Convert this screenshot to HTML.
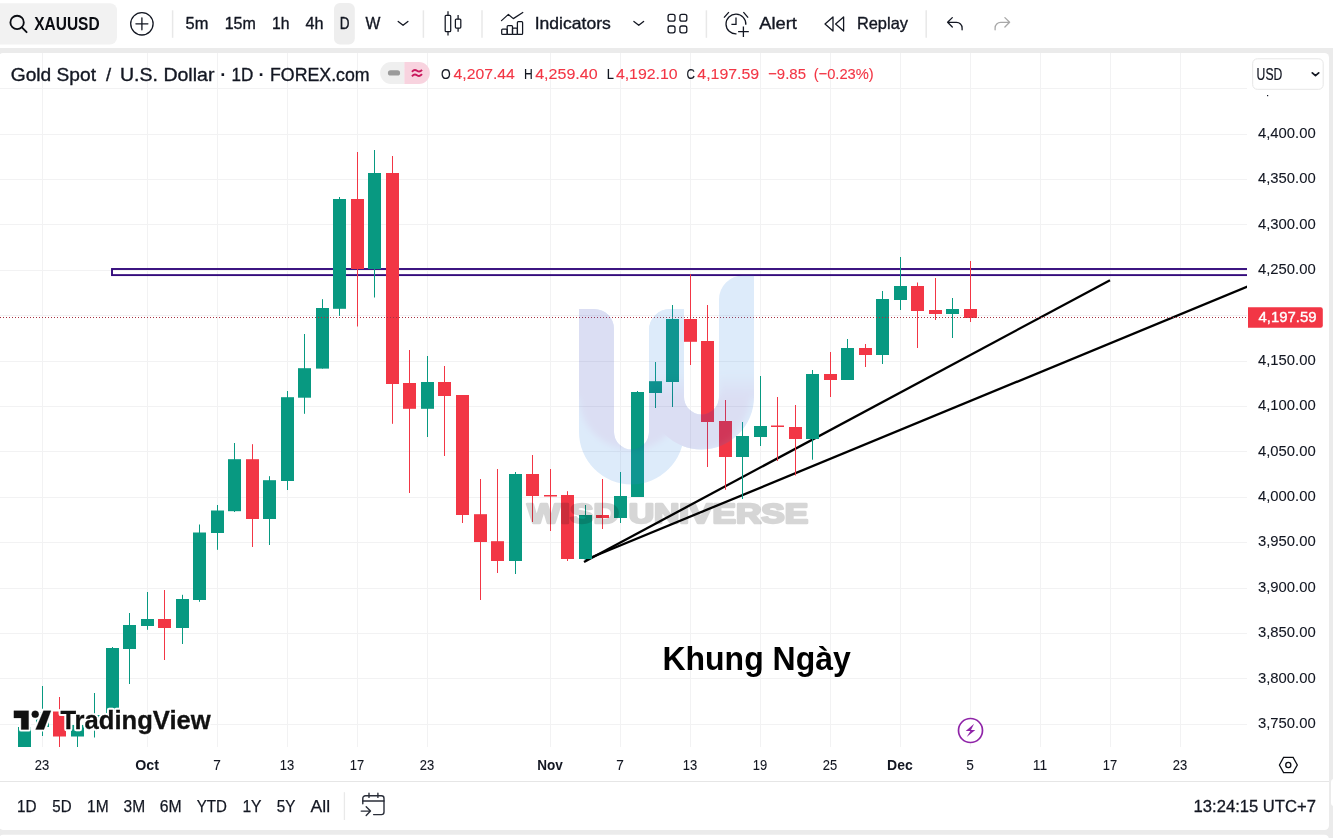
<!DOCTYPE html>
<html lang="vi"><head><meta charset="utf-8"><title>XAUUSD chart</title>
<style>html,body{margin:0;padding:0;background:#ebebeb}body{width:1333px;height:838px;overflow:hidden;position:relative}svg{display:block;position:absolute;left:0;top:0}text{font-family:"Liberation Sans",sans-serif}.b{font-weight:bold}</style></head><body>
<svg width="1333" height="838" viewBox="0 0 1333 838" fill="#131722">
<rect x="0" y="0" width="1333" height="838" fill="#ebebeb"/>
<rect x="0" y="0" width="1333" height="48" fill="#fff"/>
<rect x="-1.5" y="53" width="1330.5" height="777" rx="4.5" fill="#fff"/>
<rect x="-1.5" y="834.8" width="1330.5" height="12" rx="4.5" fill="#fff"/>
<rect x="1331" y="779" width="8" height="27" rx="3" fill="#fff"/>
<defs><clipPath id="pane"><rect x="0" y="53" width="1247" height="694"/></clipPath></defs>
<g clip-path="url(#pane)">
<line x1="42.5" y1="53" x2="42.5" y2="747" stroke="#f2f2f3" stroke-width="1"/>
<line x1="147.5" y1="53" x2="147.5" y2="747" stroke="#f2f2f3" stroke-width="1"/>
<line x1="217.5" y1="53" x2="217.5" y2="747" stroke="#f2f2f3" stroke-width="1"/>
<line x1="287.5" y1="53" x2="287.5" y2="747" stroke="#f2f2f3" stroke-width="1"/>
<line x1="357.5" y1="53" x2="357.5" y2="747" stroke="#f2f2f3" stroke-width="1"/>
<line x1="427.5" y1="53" x2="427.5" y2="747" stroke="#f2f2f3" stroke-width="1"/>
<line x1="550.5" y1="53" x2="550.5" y2="747" stroke="#f2f2f3" stroke-width="1"/>
<line x1="620.5" y1="53" x2="620.5" y2="747" stroke="#f2f2f3" stroke-width="1"/>
<line x1="690.5" y1="53" x2="690.5" y2="747" stroke="#f2f2f3" stroke-width="1"/>
<line x1="760.5" y1="53" x2="760.5" y2="747" stroke="#f2f2f3" stroke-width="1"/>
<line x1="830.5" y1="53" x2="830.5" y2="747" stroke="#f2f2f3" stroke-width="1"/>
<line x1="900.5" y1="53" x2="900.5" y2="747" stroke="#f2f2f3" stroke-width="1"/>
<line x1="970.5" y1="53" x2="970.5" y2="747" stroke="#f2f2f3" stroke-width="1"/>
<line x1="1040.5" y1="53" x2="1040.5" y2="747" stroke="#f2f2f3" stroke-width="1"/>
<line x1="1110.5" y1="53" x2="1110.5" y2="747" stroke="#f2f2f3" stroke-width="1"/>
<line x1="1180.5" y1="53" x2="1180.5" y2="747" stroke="#f2f2f3" stroke-width="1"/>
<line x1="0" y1="724.5" x2="1247" y2="724.5" stroke="#f2f2f3" stroke-width="1"/>
<line x1="0" y1="678.5" x2="1247" y2="678.5" stroke="#f2f2f3" stroke-width="1"/>
<line x1="0" y1="633.5" x2="1247" y2="633.5" stroke="#f2f2f3" stroke-width="1"/>
<line x1="0" y1="588.5" x2="1247" y2="588.5" stroke="#f2f2f3" stroke-width="1"/>
<line x1="0" y1="542.5" x2="1247" y2="542.5" stroke="#f2f2f3" stroke-width="1"/>
<line x1="0" y1="497.5" x2="1247" y2="497.5" stroke="#f2f2f3" stroke-width="1"/>
<line x1="0" y1="451.5" x2="1247" y2="451.5" stroke="#f2f2f3" stroke-width="1"/>
<line x1="0" y1="406.5" x2="1247" y2="406.5" stroke="#f2f2f3" stroke-width="1"/>
<line x1="0" y1="361.5" x2="1247" y2="361.5" stroke="#f2f2f3" stroke-width="1"/>
<line x1="0" y1="315.5" x2="1247" y2="315.5" stroke="#f2f2f3" stroke-width="1"/>
<line x1="0" y1="270.5" x2="1247" y2="270.5" stroke="#f2f2f3" stroke-width="1"/>
<line x1="0" y1="224.5" x2="1247" y2="224.5" stroke="#f2f2f3" stroke-width="1"/>
<line x1="0" y1="179.5" x2="1247" y2="179.5" stroke="#f2f2f3" stroke-width="1"/>
<line x1="0" y1="134.5" x2="1247" y2="134.5" stroke="#f2f2f3" stroke-width="1"/>
<line x1="0" y1="88.5" x2="1247" y2="88.5" stroke="#f2f2f3" stroke-width="1"/>
<rect x="112" y="269" width="1300" height="6.1" fill="none" stroke="#340b7c" stroke-width="1.9"/>
<line x1="584" y1="562" x2="1110" y2="280.2" stroke="#000" stroke-width="2.3"/>
<line x1="585" y1="560" x2="1260" y2="281.5" stroke="#000" stroke-width="2.3"/>
<line x1="24.5" y1="726.0" x2="24.5" y2="760.0" stroke="#089981" stroke-width="1"/>
<rect x="18" y="727.0" width="13" height="33.0" fill="#089981"/>
<line x1="42.5" y1="686.0" x2="42.5" y2="736.0" stroke="#089981" stroke-width="1"/>
<rect x="36" y="712.0" width="13" height="15.0" fill="#089981"/>
<line x1="59.5" y1="697.0" x2="59.5" y2="760.0" stroke="#f23645" stroke-width="1"/>
<rect x="53" y="711.5" width="13" height="25.0" fill="#f23645"/>
<line x1="77.5" y1="724.0" x2="77.5" y2="760.0" stroke="#089981" stroke-width="1"/>
<rect x="71" y="725.0" width="13" height="11.5" fill="#089981"/>
<line x1="94.5" y1="693.0" x2="94.5" y2="737.5" stroke="#089981" stroke-width="1"/>
<rect x="88" y="715.0" width="13" height="10.0" fill="#089981"/>
<line x1="112.5" y1="647.0" x2="112.5" y2="716.0" stroke="#089981" stroke-width="1"/>
<rect x="106" y="648.0" width="13" height="67.0" fill="#089981"/>
<line x1="129.5" y1="613.0" x2="129.5" y2="684.0" stroke="#089981" stroke-width="1"/>
<rect x="123" y="625.0" width="13" height="24.0" fill="#089981"/>
<line x1="147.5" y1="592.0" x2="147.5" y2="629.8" stroke="#089981" stroke-width="1"/>
<rect x="141" y="619.0" width="13" height="7.0" fill="#089981"/>
<line x1="164.5" y1="590.0" x2="164.5" y2="660.0" stroke="#f23645" stroke-width="1"/>
<rect x="158" y="619.0" width="13" height="9.0" fill="#f23645"/>
<line x1="182.5" y1="594.8" x2="182.5" y2="644.0" stroke="#089981" stroke-width="1"/>
<rect x="176" y="599.0" width="13" height="29.0" fill="#089981"/>
<line x1="199.5" y1="524.5" x2="199.5" y2="601.8" stroke="#089981" stroke-width="1"/>
<rect x="193" y="532.5" width="13" height="67.5" fill="#089981"/>
<line x1="217.5" y1="505.0" x2="217.5" y2="549.8" stroke="#089981" stroke-width="1"/>
<rect x="211" y="510.5" width="13" height="22.5" fill="#089981"/>
<line x1="234.5" y1="443.0" x2="234.5" y2="512.0" stroke="#089981" stroke-width="1"/>
<rect x="228" y="459.2" width="13" height="52.0" fill="#089981"/>
<line x1="252.5" y1="444.2" x2="252.5" y2="547.0" stroke="#f23645" stroke-width="1"/>
<rect x="246" y="459.2" width="13" height="59.8" fill="#f23645"/>
<line x1="269.5" y1="476.2" x2="269.5" y2="545.0" stroke="#089981" stroke-width="1"/>
<rect x="263" y="480.2" width="13" height="38.8" fill="#089981"/>
<line x1="287.5" y1="391.0" x2="287.5" y2="490.0" stroke="#089981" stroke-width="1"/>
<rect x="281" y="397.2" width="13" height="83.8" fill="#089981"/>
<line x1="304.5" y1="334.0" x2="304.5" y2="413.8" stroke="#089981" stroke-width="1"/>
<rect x="298" y="368.2" width="13" height="29.5" fill="#089981"/>
<line x1="322.5" y1="299.2" x2="322.5" y2="368.6" stroke="#089981" stroke-width="1"/>
<rect x="316" y="308.0" width="13" height="60.6" fill="#089981"/>
<line x1="339.5" y1="197.0" x2="339.5" y2="315.9" stroke="#089981" stroke-width="1"/>
<rect x="333" y="199.0" width="13" height="109.8" fill="#089981"/>
<line x1="357.5" y1="152.0" x2="357.5" y2="326.5" stroke="#f23645" stroke-width="1"/>
<rect x="351" y="199.0" width="13" height="70.0" fill="#f23645"/>
<line x1="374.5" y1="150.0" x2="374.5" y2="297.5" stroke="#089981" stroke-width="1"/>
<rect x="368" y="173.0" width="13" height="96.0" fill="#089981"/>
<line x1="392.5" y1="156.0" x2="392.5" y2="423.8" stroke="#f23645" stroke-width="1"/>
<rect x="386" y="173.0" width="13" height="211.0" fill="#f23645"/>
<line x1="409.5" y1="350.0" x2="409.5" y2="493.0" stroke="#f23645" stroke-width="1"/>
<rect x="403" y="383.0" width="13" height="25.8" fill="#f23645"/>
<line x1="427.5" y1="356.0" x2="427.5" y2="437.0" stroke="#089981" stroke-width="1"/>
<rect x="421" y="382.0" width="13" height="26.8" fill="#089981"/>
<line x1="444.5" y1="366.0" x2="444.5" y2="456.0" stroke="#f23645" stroke-width="1"/>
<rect x="438" y="382.0" width="13" height="14.0" fill="#f23645"/>
<line x1="462.5" y1="395.0" x2="462.5" y2="523.0" stroke="#f23645" stroke-width="1"/>
<rect x="456" y="395.0" width="13" height="120.0" fill="#f23645"/>
<line x1="480.5" y1="479.0" x2="480.5" y2="600.0" stroke="#f23645" stroke-width="1"/>
<rect x="474" y="514.2" width="13" height="27.8" fill="#f23645"/>
<line x1="497.5" y1="469.0" x2="497.5" y2="573.0" stroke="#f23645" stroke-width="1"/>
<rect x="491" y="541.2" width="13" height="19.8" fill="#f23645"/>
<line x1="515.5" y1="472.0" x2="515.5" y2="574.0" stroke="#089981" stroke-width="1"/>
<rect x="509" y="474.0" width="13" height="87.0" fill="#089981"/>
<line x1="532.5" y1="455.0" x2="532.5" y2="522.0" stroke="#f23645" stroke-width="1"/>
<rect x="526" y="474.0" width="13" height="22.0" fill="#f23645"/>
<line x1="550.5" y1="469.0" x2="550.5" y2="531.0" stroke="#f23645" stroke-width="1"/>
<rect x="544" y="495.0" width="13" height="1.5" fill="#f23645"/>
<line x1="567.5" y1="491.2" x2="567.5" y2="561.0" stroke="#f23645" stroke-width="1"/>
<rect x="561" y="495.0" width="13" height="64.0" fill="#f23645"/>
<line x1="585.5" y1="505.0" x2="585.5" y2="560.0" stroke="#089981" stroke-width="1"/>
<rect x="579" y="515.0" width="13" height="44.0" fill="#089981"/>
<line x1="602.5" y1="479.0" x2="602.5" y2="529.0" stroke="#f23645" stroke-width="1"/>
<rect x="596" y="515.0" width="13" height="3.0" fill="#f23645"/>
<line x1="620.5" y1="472.0" x2="620.5" y2="523.0" stroke="#089981" stroke-width="1"/>
<rect x="614" y="496.0" width="13" height="22.0" fill="#089981"/>
<line x1="637.5" y1="391.0" x2="637.5" y2="497.0" stroke="#089981" stroke-width="1"/>
<rect x="631" y="392.0" width="13" height="105.0" fill="#089981"/>
<line x1="655.5" y1="362.0" x2="655.5" y2="408.0" stroke="#089981" stroke-width="1"/>
<rect x="649" y="381.2" width="13" height="11.8" fill="#089981"/>
<line x1="672.5" y1="305.0" x2="672.5" y2="407.0" stroke="#089981" stroke-width="1"/>
<rect x="666" y="319.0" width="13" height="63.0" fill="#089981"/>
<line x1="690.5" y1="274.2" x2="690.5" y2="365.0" stroke="#f23645" stroke-width="1"/>
<rect x="684" y="319.0" width="13" height="22.8" fill="#f23645"/>
<line x1="707.5" y1="305.0" x2="707.5" y2="467.0" stroke="#f23645" stroke-width="1"/>
<rect x="701" y="341.0" width="13" height="81.0" fill="#f23645"/>
<line x1="725.5" y1="400.0" x2="725.5" y2="489.8" stroke="#f23645" stroke-width="1"/>
<rect x="719" y="421.0" width="13" height="36.0" fill="#f23645"/>
<line x1="742.5" y1="422.0" x2="742.5" y2="499.0" stroke="#089981" stroke-width="1"/>
<rect x="736" y="436.0" width="13" height="21.0" fill="#089981"/>
<line x1="760.5" y1="376.0" x2="760.5" y2="446.0" stroke="#089981" stroke-width="1"/>
<rect x="754" y="426.0" width="13" height="11.0" fill="#089981"/>
<line x1="777.5" y1="397.0" x2="777.5" y2="461.0" stroke="#f23645" stroke-width="1"/>
<rect x="771" y="425.5" width="13" height="1.5" fill="#f23645"/>
<line x1="795.5" y1="405.0" x2="795.5" y2="475.5" stroke="#f23645" stroke-width="1"/>
<rect x="789" y="427.0" width="13" height="12.0" fill="#f23645"/>
<line x1="812.5" y1="370.0" x2="812.5" y2="459.7" stroke="#089981" stroke-width="1"/>
<rect x="806" y="374.0" width="13" height="65.0" fill="#089981"/>
<line x1="830.5" y1="352.0" x2="830.5" y2="397.0" stroke="#f23645" stroke-width="1"/>
<rect x="824" y="374.0" width="13" height="6.0" fill="#f23645"/>
<line x1="847.5" y1="339.0" x2="847.5" y2="380.0" stroke="#089981" stroke-width="1"/>
<rect x="841" y="348.0" width="13" height="32.0" fill="#089981"/>
<line x1="865.5" y1="344.0" x2="865.5" y2="367.0" stroke="#f23645" stroke-width="1"/>
<rect x="859" y="348.0" width="13" height="7.0" fill="#f23645"/>
<line x1="882.5" y1="291.0" x2="882.5" y2="364.0" stroke="#089981" stroke-width="1"/>
<rect x="876" y="299.0" width="13" height="56.0" fill="#089981"/>
<line x1="900.5" y1="257.0" x2="900.5" y2="310.0" stroke="#089981" stroke-width="1"/>
<rect x="894" y="286.0" width="13" height="14.0" fill="#089981"/>
<line x1="917.5" y1="282.5" x2="917.5" y2="348.0" stroke="#f23645" stroke-width="1"/>
<rect x="911" y="286.0" width="13" height="25.0" fill="#f23645"/>
<line x1="935.5" y1="278.0" x2="935.5" y2="320.0" stroke="#f23645" stroke-width="1"/>
<rect x="929" y="310.0" width="13" height="4.0" fill="#f23645"/>
<line x1="952.5" y1="298.0" x2="952.5" y2="338.0" stroke="#089981" stroke-width="1"/>
<rect x="946" y="309.0" width="13" height="5.0" fill="#089981"/>
<line x1="970.5" y1="261.0" x2="970.5" y2="322.0" stroke="#f23645" stroke-width="1"/>
<rect x="964" y="309.0" width="13" height="9.0" fill="#f23645"/>
<line x1="0" y1="317.5" x2="1247" y2="317.5" stroke="#a83240" stroke-width="1" stroke-dasharray="1 2" shape-rendering="crispEdges"/>
<defs>
<clipPath id="uL"><path d="M579 309 H594 A20 20 0 0 1 614 329 V432 A17.5 17.5 0 0 0 649 432 V330 A21 21 0 0 1 670 309 H684 V432 A52.5 52.5 0 0 1 579 432 Z"/></clipPath>
<clipPath id="uR"><path d="M649 330 A21 21 0 0 1 670 309 H684 V397 A17.5 17.5 0 0 0 719 397 V299.5 A24 24 0 0 1 743 275.5 H754 V397 A52.5 52.5 0 0 1 649 397 Z"/></clipPath>
<linearGradient id="fd" x1="0" y1="0" x2="0" y2="1"><stop offset="0" stop-color="#2a3cb8" stop-opacity="0"/><stop offset="1" stop-color="#2a3cb8" stop-opacity="1"/></linearGradient>
<filter id="bl" x="-20%" y="-20%" width="140%" height="140%"><feGaussianBlur stdDeviation="3"/></filter>
</defs>
<g id="wm" opacity="0.17">
<path d="M579 309 H594 A20 20 0 0 1 614 329 V432 A17.5 17.5 0 0 0 649 432 V330 A21 21 0 0 1 670 309 H684 V432 A52.5 52.5 0 0 1 579 432 Z" fill="#3789e2"/>
<path d="M649 330 A21 21 0 0 1 670 309 H684 V397 A17.5 17.5 0 0 0 719 397 V299.5 A24 24 0 0 1 743 275.5 H754 V397 A52.5 52.5 0 0 1 649 397 Z" fill="#3789e2"/>
<g clip-path="url(#uL)"><g filter="url(#bl)"><rect x="570" y="290" width="49" height="107.5" fill="#2a3cb8"/><path d="M579 397 A52.5 52.5 0 0 0 684 397 Z" fill="#2a3cb8"/><rect x="649" y="372" width="45" height="25.5" fill="url(#fd)"/></g></g>
<g clip-path="url(#uR)"><g filter="url(#bl)"><path d="M629 397 A61 61 0 0 0 751 385 L751 397 Z" fill="#2a3cb8"/><rect x="719" y="372" width="45" height="25.5" fill="url(#fd)"/></g></g>
<text x="527.2" y="522.8" font-size="27" class="b" textLength="281" lengthAdjust="spacingAndGlyphs" fill="#111" stroke="#111" stroke-width="2.4" stroke-linejoin="round">WISD UNIVERSE</text>
</g>
<text x="662.5" y="670.4" font-size="34" class="b" fill="#000" textLength="188.2" lengthAdjust="spacingAndGlyphs">Khung Ngày</text>
<circle cx="970.5" cy="730.5" r="12" fill="#fff" stroke="#8f24a8" stroke-width="1.7"/>
<path d="M974.1 723.8 L965.7 731.1 H970.4 L966.7 737 L975.3 729.9 H971 Z" fill="#8f24a8"/>
<g fill="#fff" stroke="#fff" stroke-width="4.4" stroke-linejoin="round">
<path d="M13.9 710.8 H28.6 V729.4 H21.2 V717.9 H13.9 Z"/>
<circle cx="35.2" cy="714.2" r="3.5"/>
<path d="M43.5 710.8 H50.9 L43.9 729.4 H35.6 Z"/>
<text x="60.4" y="729.4" font-size="26" class="b" textLength="150.3" lengthAdjust="spacingAndGlyphs">TradingView</text>
</g>
<g fill="#111" stroke="#111" stroke-width="0.3">
<path d="M13.9 710.8 H28.6 V729.4 H21.2 V717.9 H13.9 Z"/>
<circle cx="35.2" cy="714.2" r="3.5"/>
<path d="M43.5 710.8 H50.9 L43.9 729.4 H35.6 Z"/>
<text x="60.4" y="729.4" font-size="26" class="b" textLength="150.3" lengthAdjust="spacingAndGlyphs">TradingView</text>
</g>
</g>
<text x="10.8" y="80.5" font-size="18.4" textLength="85.2" lengthAdjust="spacingAndGlyphs" stroke="#131722" stroke-width="0.35">Gold Spot</text>
<text x="105.9" y="80.5" font-size="18.4" stroke="#131722" stroke-width="0.35">/</text>
<text x="120.0" y="80.5" font-size="18.4" textLength="94.4" lengthAdjust="spacingAndGlyphs" stroke="#131722" stroke-width="0.35">U.S. Dollar</text>
<text x="220.2" y="80.5" font-size="18.4" class="b">·</text>
<text x="231.6" y="80.5" font-size="18.4" textLength="21.8" lengthAdjust="spacingAndGlyphs" stroke="#131722" stroke-width="0.35">1D</text>
<text x="258.6" y="80.5" font-size="18.4" class="b">·</text>
<text x="270.0" y="80.5" font-size="18.4" textLength="99.6" lengthAdjust="spacingAndGlyphs" stroke="#131722" stroke-width="0.35">FOREX.com</text>
<path d="M391.1 62 H404.4 V83.9 H391.1 A10.95 10.95 0 0 1 391.1 62 Z" fill="#efefef"/>
<path d="M404.4 62 H418.9 A10.95 10.95 0 0 1 418.9 83.9 H404.4 Z" fill="#f8d3df"/>
<rect x="387.9" y="70.3" width="12.2" height="5.2" rx="2.6" fill="#9b9b9b"/>
<path d="M412 71.9 q2.3 -3 5 -1.1 t5 -1 M412 76.3 q2.3 -3 5 -1.1 t5 -1" fill="none" stroke="#c9185c" stroke-width="1.9" stroke-linecap="butt"/>
<text x="441.0" y="78.8" font-size="15.5" textLength="9.7" lengthAdjust="spacingAndGlyphs" stroke="#131722" stroke-width="0.12">O</text>
<text x="453.6" y="78.8" font-size="15.5" fill="#f23645" textLength="61.2" lengthAdjust="spacingAndGlyphs" stroke="#f23645" stroke-width="0.12">4,207.44</text>
<text x="524.0" y="78.8" font-size="15.5" textLength="8.8" lengthAdjust="spacingAndGlyphs" stroke="#131722" stroke-width="0.12">H</text>
<text x="535.2" y="78.8" font-size="15.5" fill="#f23645" textLength="62.4" lengthAdjust="spacingAndGlyphs" stroke="#f23645" stroke-width="0.12">4,259.40</text>
<text x="606.8" y="78.8" font-size="15.5" textLength="7.2" lengthAdjust="spacingAndGlyphs" stroke="#131722" stroke-width="0.12">L</text>
<text x="615.9" y="78.8" font-size="15.5" fill="#f23645" textLength="61.7" lengthAdjust="spacingAndGlyphs" stroke="#f23645" stroke-width="0.12">4,192.10</text>
<text x="686.5" y="78.8" font-size="15.5" textLength="8.4" lengthAdjust="spacingAndGlyphs" stroke="#131722" stroke-width="0.12">C</text>
<text x="697.3" y="78.8" font-size="15.5" fill="#f23645" textLength="61.9" lengthAdjust="spacingAndGlyphs" stroke="#f23645" stroke-width="0.12">4,197.59</text>
<text x="768.1" y="78.8" font-size="15.5" fill="#f23645" textLength="37.9" lengthAdjust="spacingAndGlyphs" stroke="#f23645" stroke-width="0.12">−9.85</text>
<text x="813.7" y="78.8" font-size="15.5" fill="#f23645" textLength="60.0" lengthAdjust="spacingAndGlyphs" stroke="#f23645" stroke-width="0.12">(−0.23%)</text>
<text x="1258.0" y="728.0" font-size="14.8" textLength="57.7" lengthAdjust="spacingAndGlyphs" stroke="#131722" stroke-width="0.1">3,750.00</text>
<text x="1258.0" y="682.6" font-size="14.8" textLength="57.7" lengthAdjust="spacingAndGlyphs" stroke="#131722" stroke-width="0.1">3,800.00</text>
<text x="1258.0" y="637.2" font-size="14.8" textLength="57.7" lengthAdjust="spacingAndGlyphs" stroke="#131722" stroke-width="0.1">3,850.00</text>
<text x="1258.0" y="591.8" font-size="14.8" textLength="57.7" lengthAdjust="spacingAndGlyphs" stroke="#131722" stroke-width="0.1">3,900.00</text>
<text x="1258.0" y="546.4" font-size="14.8" textLength="57.7" lengthAdjust="spacingAndGlyphs" stroke="#131722" stroke-width="0.1">3,950.00</text>
<text x="1258.0" y="501.0" font-size="14.8" textLength="57.7" lengthAdjust="spacingAndGlyphs" stroke="#131722" stroke-width="0.1">4,000.00</text>
<text x="1258.0" y="455.6" font-size="14.8" textLength="57.7" lengthAdjust="spacingAndGlyphs" stroke="#131722" stroke-width="0.1">4,050.00</text>
<text x="1258.0" y="410.2" font-size="14.8" textLength="57.7" lengthAdjust="spacingAndGlyphs" stroke="#131722" stroke-width="0.1">4,100.00</text>
<text x="1258.0" y="364.8" font-size="14.8" textLength="57.7" lengthAdjust="spacingAndGlyphs" stroke="#131722" stroke-width="0.1">4,150.00</text>
<text x="1258.0" y="319.4" font-size="14.8" textLength="57.7" lengthAdjust="spacingAndGlyphs" stroke="#131722" stroke-width="0.1">4,200.00</text>
<text x="1258.0" y="274.0" font-size="14.8" textLength="57.7" lengthAdjust="spacingAndGlyphs" stroke="#131722" stroke-width="0.1">4,250.00</text>
<text x="1258.0" y="228.6" font-size="14.8" textLength="57.7" lengthAdjust="spacingAndGlyphs" stroke="#131722" stroke-width="0.1">4,300.00</text>
<text x="1258.0" y="183.2" font-size="14.8" textLength="57.7" lengthAdjust="spacingAndGlyphs" stroke="#131722" stroke-width="0.1">4,350.00</text>
<text x="1258.0" y="137.8" font-size="14.8" textLength="57.7" lengthAdjust="spacingAndGlyphs" stroke="#131722" stroke-width="0.1">4,400.00</text>
<rect x="1267" y="95" width="1.2" height="1.2" fill="#131722"/>
<rect x="1252.7" y="58.8" width="70.5" height="30.5" rx="4.5" fill="#fff" stroke="#e6e6e6" stroke-width="1"/>
<text x="1256.6" y="79.9" font-size="15.6" textLength="25.7" lengthAdjust="spacingAndGlyphs" stroke="#131722" stroke-width="0.2">USD</text>
<path d="M1312.3 72.9 L1315.5 75.6 L1318.7 72.9" fill="none" stroke="#131722" stroke-width="1.8" stroke-linecap="round" stroke-linejoin="round"/>
<path d="M1248 307.2 H1320.6 a2.2 2.2 0 0 1 2.2 2.2 V325.6 a2.2 2.2 0 0 1 -2.2 2.2 H1248 Z" fill="#f23645"/>
<text x="1258.5" y="322.4" font-size="14.2" fill="#fff" textLength="58.0" lengthAdjust="spacingAndGlyphs" stroke="#fff" stroke-width="0.35">4,197.59</text>
<text x="34.8" y="769.6" font-size="14.4" textLength="14.4" lengthAdjust="spacingAndGlyphs" stroke="#131722" stroke-width="0.1">23</text>
<text x="135.2" y="769.6" font-size="14.4" class="b" textLength="23.7" lengthAdjust="spacingAndGlyphs">Oct</text>
<text x="213.2" y="769.6" font-size="14.4" textLength="7.6" lengthAdjust="spacingAndGlyphs" stroke="#131722" stroke-width="0.1">7</text>
<text x="279.8" y="769.6" font-size="14.4" textLength="14.4" lengthAdjust="spacingAndGlyphs" stroke="#131722" stroke-width="0.1">13</text>
<text x="349.8" y="769.6" font-size="14.4" textLength="14.4" lengthAdjust="spacingAndGlyphs" stroke="#131722" stroke-width="0.1">17</text>
<text x="419.8" y="769.6" font-size="14.4" textLength="14.4" lengthAdjust="spacingAndGlyphs" stroke="#131722" stroke-width="0.1">23</text>
<text x="537.2" y="769.6" font-size="14.4" class="b" textLength="25.6" lengthAdjust="spacingAndGlyphs">Nov</text>
<text x="616.2" y="769.6" font-size="14.4" textLength="7.6" lengthAdjust="spacingAndGlyphs" stroke="#131722" stroke-width="0.1">7</text>
<text x="682.8" y="769.6" font-size="14.4" textLength="14.4" lengthAdjust="spacingAndGlyphs" stroke="#131722" stroke-width="0.1">13</text>
<text x="752.8" y="769.6" font-size="14.4" textLength="14.4" lengthAdjust="spacingAndGlyphs" stroke="#131722" stroke-width="0.1">19</text>
<text x="822.8" y="769.6" font-size="14.4" textLength="14.4" lengthAdjust="spacingAndGlyphs" stroke="#131722" stroke-width="0.1">25</text>
<text x="887.1" y="769.6" font-size="14.4" class="b" textLength="25.7" lengthAdjust="spacingAndGlyphs">Dec</text>
<text x="966.2" y="769.6" font-size="14.4" textLength="7.6" lengthAdjust="spacingAndGlyphs" stroke="#131722" stroke-width="0.1">5</text>
<text x="1032.8" y="769.6" font-size="14.4" textLength="14.4" lengthAdjust="spacingAndGlyphs" stroke="#131722" stroke-width="0.1">11</text>
<text x="1102.8" y="769.6" font-size="14.4" textLength="14.4" lengthAdjust="spacingAndGlyphs" stroke="#131722" stroke-width="0.1">17</text>
<text x="1172.8" y="769.6" font-size="14.4" textLength="14.4" lengthAdjust="spacingAndGlyphs" stroke="#131722" stroke-width="0.1">23</text>
<path d="M1279.4 765 L1283.6 757.4 H1293.1 L1297.3 765 L1293.1 772.6 H1283.6 Z" fill="none" stroke="#0c0e14" stroke-width="1.3" stroke-linejoin="miter"/>
<circle cx="1288.3" cy="765" r="2.55" fill="none" stroke="#0c0e14" stroke-width="1.3"/>
<line x1="0" y1="781.5" x2="1329" y2="781.5" stroke="#e6e6e6" stroke-width="1"/>
<text x="16.9" y="811.8" font-size="17.2" textLength="19.6" lengthAdjust="spacingAndGlyphs" stroke="#131722" stroke-width="0.25">1D</text>
<text x="52.3" y="811.8" font-size="17.2" textLength="19.3" lengthAdjust="spacingAndGlyphs" stroke="#131722" stroke-width="0.25">5D</text>
<text x="87.1" y="811.8" font-size="17.2" textLength="21.6" lengthAdjust="spacingAndGlyphs" stroke="#131722" stroke-width="0.25">1M</text>
<text x="123.6" y="811.8" font-size="17.2" textLength="21.6" lengthAdjust="spacingAndGlyphs" stroke="#131722" stroke-width="0.25">3M</text>
<text x="159.7" y="811.8" font-size="17.2" textLength="21.9" lengthAdjust="spacingAndGlyphs" stroke="#131722" stroke-width="0.25">6M</text>
<text x="196.8" y="811.8" font-size="17.2" textLength="30.1" lengthAdjust="spacingAndGlyphs" stroke="#131722" stroke-width="0.25">YTD</text>
<text x="242.4" y="811.8" font-size="17.2" textLength="19.2" lengthAdjust="spacingAndGlyphs" stroke="#131722" stroke-width="0.25">1Y</text>
<text x="276.8" y="811.8" font-size="17.2" textLength="18.6" lengthAdjust="spacingAndGlyphs" stroke="#131722" stroke-width="0.25">5Y</text>
<text x="310.6" y="811.8" font-size="17.2" textLength="19.6" lengthAdjust="spacingAndGlyphs" stroke="#131722" stroke-width="0.25">All</text>
<line x1="344.4" y1="792.2" x2="344.4" y2="820" stroke="#e9e9e9" stroke-width="1.3"/>
<g fill="none" stroke="#2a2e39" stroke-width="1.4" stroke-linecap="round" stroke-linejoin="round">
<path d="M362.8 803.8 V798.4 A2.6 2.6 0 0 1 365.4 795.8 H381.4 A2.6 2.6 0 0 1 384 798.4 V812 A2.6 2.6 0 0 1 381.4 814.6 H373.6"/>
<path d="M362.8 801 H384"/>
<path d="M369 793.3 V797.4 M377.9 793.3 V797.4"/>
<path d="M361.2 811.1 H370.3 M366.2 806.8 L370.5 811.1 L366.2 815.4"/>
</g>
<text x="1193.6" y="811.6" font-size="17" textLength="122.3" lengthAdjust="spacingAndGlyphs" stroke="#131722" stroke-width="0.3">13:24:15 UTC+7</text>
<rect x="-8" y="3.2" width="125" height="41.4" rx="7" fill="#f2f2f2"/>
<g fill="none" stroke="#0b0d13" stroke-width="1.85" stroke-linecap="round"><circle cx="17.1" cy="22.4" r="6.7"/><path d="M21.9 27.3 L26.6 32.2"/></g>
<text x="34.2" y="30.0" font-size="17.6" class="b" fill="#0b0d13" textLength="65.4" lengthAdjust="spacingAndGlyphs">XAUUSD</text>
<g fill="none" stroke="#131722" stroke-width="1.3" stroke-linecap="round"><circle cx="141.9" cy="23.8" r="11.2"/><path d="M135.9 23.8 H147.9 M141.9 17.8 V29.8"/></g>
<line x1="172.6" y1="10.3" x2="172.6" y2="37.8" stroke="#e8e8e8" stroke-width="1.5"/>
<line x1="423.4" y1="10.3" x2="423.4" y2="37.8" stroke="#e8e8e8" stroke-width="1.5"/>
<line x1="482.0" y1="10.3" x2="482.0" y2="37.8" stroke="#e8e8e8" stroke-width="1.5"/>
<line x1="706.4" y1="10.3" x2="706.4" y2="37.8" stroke="#e8e8e8" stroke-width="1.5"/>
<line x1="926.2" y1="10.3" x2="926.2" y2="37.8" stroke="#e8e8e8" stroke-width="1.5"/>
<rect x="334" y="3" width="20.8" height="41.5" rx="6" fill="#eeeeee"/>
<text x="185.6" y="29.4" font-size="16.5" textLength="22.8" lengthAdjust="spacingAndGlyphs" stroke="#131722" stroke-width="0.35">5m</text>
<text x="224.7" y="29.4" font-size="16.5" textLength="31.2" lengthAdjust="spacingAndGlyphs" stroke="#131722" stroke-width="0.35">15m</text>
<text x="272.0" y="29.4" font-size="16.5" textLength="17.5" lengthAdjust="spacingAndGlyphs" stroke="#131722" stroke-width="0.35">1h</text>
<text x="305.6" y="29.4" font-size="16.5" textLength="18.0" lengthAdjust="spacingAndGlyphs" stroke="#131722" stroke-width="0.35">4h</text>
<text x="339.7" y="29.4" font-size="16.5" textLength="9.8" lengthAdjust="spacingAndGlyphs" stroke="#131722" stroke-width="0.35">D</text>
<text x="365.6" y="29.4" font-size="16.5" textLength="14.9" lengthAdjust="spacingAndGlyphs" stroke="#131722" stroke-width="0.35">W</text>
<path d="M398.2 21.5 L403.05 25.3 L407.9 21.5" fill="none" stroke="#131722" stroke-width="1.3" stroke-linecap="round" stroke-linejoin="round"/>
<g fill="none" stroke="#131722" stroke-width="1.25"><rect x="445.2" y="15.4" width="5.5" height="16.2" rx="0.9"/><path d="M448 11.2 V15.4 M448 31.6 V35.5"/><rect x="455.4" y="19.2" width="5.4" height="8.8" rx="0.9"/><path d="M458.1 15.1 V19.2 M458.1 28 V31.8"/></g>
<g fill="none" stroke="#131722" stroke-width="1.25" stroke-linecap="round" stroke-linejoin="round"><path d="M501.5 20.6 L508.4 14.4 L513.3 18.6 L522.8 12.5"/>
<rect x="501.7" y="29.2" width="5.5" height="5.2" rx="0.9"/>
<rect x="507.2" y="25.5" width="5.3" height="8.9" rx="0.9"/>
<rect x="512.5" y="28.1" width="4.9" height="6.3" rx="0.9"/>
<rect x="517.4" y="21.7" width="5.2" height="12.7" rx="0.9"/>
</g>
<text x="534.7" y="29.4" font-size="16.5" textLength="76.1" lengthAdjust="spacingAndGlyphs" stroke="#131722" stroke-width="0.35">Indicators</text>
<path d="M633.9 21.5 L638.75 25.3 L643.6 21.5" fill="none" stroke="#131722" stroke-width="1.3" stroke-linecap="round" stroke-linejoin="round"/>
<g fill="none" stroke="#131722" stroke-width="1.3">
<rect x="668.1" y="14.4" width="6.9" height="6.8" rx="2"/>
<rect x="679.9" y="14.4" width="6.9" height="6.8" rx="2"/>
<rect x="668.1" y="26.0" width="6.9" height="6.8" rx="2"/>
<rect x="679.9" y="26.0" width="6.9" height="6.8" rx="2"/>
</g>
<g fill="none" stroke="#131722" stroke-width="1.3" stroke-linecap="butt" stroke-linejoin="miter">
<path d="M745.8 24.7 A9.9 9.9 0 1 0 736.5 33.9"/>
<path d="M736 17.4 V24.3 H731.4"/>
<path d="M724 17.6 L728.9 12.1 M743.4 12.1 L748.1 17.6"/>
<path d="M738.1 31.6 H748.8 M743.4 26.4 V36.9"/>
</g>
<text x="759.2" y="29.4" font-size="16.5" textLength="37.7" lengthAdjust="spacingAndGlyphs" stroke="#131722" stroke-width="0.35">Alert</text>
<g fill="none" stroke="#131722" stroke-width="1.3" stroke-linejoin="round"><path d="M833 17 V31 L825 24 Z"/><path d="M843.6 17 V31 L835.6 24 Z"/></g>
<text x="856.9" y="29.4" font-size="16.5" textLength="51.1" lengthAdjust="spacingAndGlyphs" stroke="#131722" stroke-width="0.35">Replay</text>
<path d="M952.3 17.6 L947.6 22.3 L952.3 27 M947.9 22.3 H956.5 A5.6 5.6 0 0 1 962.1 27.9 V29.8" fill="none" stroke="#131722" stroke-width="1.3" stroke-linecap="round" stroke-linejoin="round"/>
<path d="M1004.9 17.6 L1009.6 22.3 L1004.9 27 M1009.3 22.3 H1000.7 A5.6 5.6 0 0 0 995.1 27.9 V29.8" fill="none" stroke="#a8a8a8" stroke-width="1.3" stroke-linecap="round" stroke-linejoin="round"/>
</svg></body></html>
